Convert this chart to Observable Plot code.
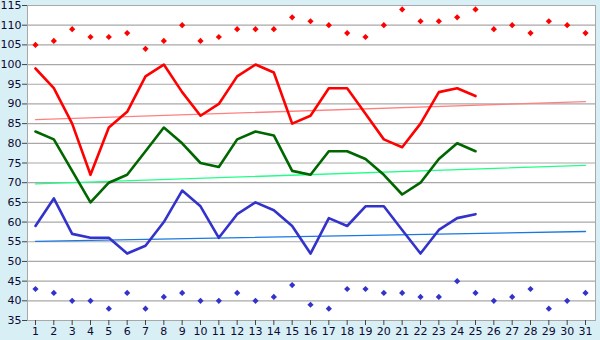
<!DOCTYPE html>
<html>
<head>
<meta charset="utf-8">
<script src="https://cdn.jsdelivr.net/npm/d3@7"></script>
<script src="https://cdn.jsdelivr.net/npm/@observablehq/plot@0.6"></script>
<style>
  html, body { margin: 0; padding: 0; background: #d9eff6; }
  #chart svg { display: block; }
</style>
</head>
<body>
<div id="chart"></div>
<script>
const days = [1,2,3,4,5,6,7,8,9,10,11,12,13,14,15,16,17,18,19,20,21,22,23,24,25,26,27,28,29,30,31];
const yTicks = [35,40,45,50,55,60,65,70,75,80,85,90,95,100,105,110,115];

const redLine   = [99,94,85,72,84,88,97,100,93,87,90,97,100,98,85,87,94,94,87.5,81,79,85,93,94,92];
const greenLine = [83,81,73,65,70,72,78,84,80,75,74,81,83,82,73,72,78,78,76,72,67,70,76,80,78];
const blueLine  = [59,66,57,56,56,52,54,60,68,64,56,62,65,63,59,52,61,59,64,64,58,52,58,61,62];

const redDots  = [105,106,109,107,107,108,104,106,110,106,107,109,109,109,112,111,110,108,107,110,114,111,111,112,114,109,110,108,111,110,108];
const blueDots = [43,42,40,40,38,42,38,41,42,40,40,42,40,41,44,39,38,43,43,42,42,41,41,45,42,40,41,43,38,40,42];

const trendDays  = [1, 31];
const redTrend   = [86, 90.6];
const greenTrend = [69.7, 74.4];
const blueTrend  = [55.1, 57.6];

const X = (d, i) => days[i];
const Y = d => d;
const TX = (d, i) => trendDays[i];

const chart = Plot.plot({
  width: 600,
  height: 340,
  marginLeft: 27,
  marginRight: 5,
  marginTop: 5,
  marginBottom: 20,
  style: {background: "#d9eff6", fontFamily: "DejaVu Sans, Verdana, sans-serif", fontSize: "11px", color: "#0a0a32"},
  x: {domain: [0.564, 31.545], axis: null},
  y: {domain: [35, 115], axis: null},
  marks: [
    Plot.frame({fill: "white", stroke: "#a8a8a8"}),
    Plot.ruleY(yTicks, {stroke: "#a8a8a8", strokeWidth: 1.2}),
    Plot.axisX({ticks: days, tickSize: 5, tickPadding: 2, tickFormat: d => d, stroke: "#444"}),
    Plot.axisY({ticks: yTicks, tickSize: 5, tickPadding: 1, tickFormat: d => d, stroke: "#444"}),
    Plot.line(redTrend,   {x: TX, y: Y, stroke: "#ff8080", strokeWidth: 1.3}),
    Plot.line(greenTrend, {x: TX, y: Y, stroke: "#22ff88", strokeWidth: 1.3}),
    Plot.line(blueTrend,  {x: TX, y: Y, stroke: "#1a78e0", strokeWidth: 1.3}),
    Plot.line(redLine,   {x: X, y: Y, stroke: "#ff0000", strokeWidth: 2.6}),
    Plot.line(greenLine, {x: X, y: Y, stroke: "#006600", strokeWidth: 2.6}),
    Plot.line(blueLine,  {x: X, y: Y, stroke: "#3333cc", strokeWidth: 2.6}),
    Plot.dot(redDots,  {x: X, y: Y, symbol: "diamond2", r: 2.8, fill: "#ff0000", stroke: "none"}),
    Plot.dot(blueDots, {x: X, y: Y, symbol: "diamond2", r: 2.8, fill: "#3333cc", stroke: "none"})
  ]
});
document.getElementById("chart").append(chart);
</script>
</body>
</html>
